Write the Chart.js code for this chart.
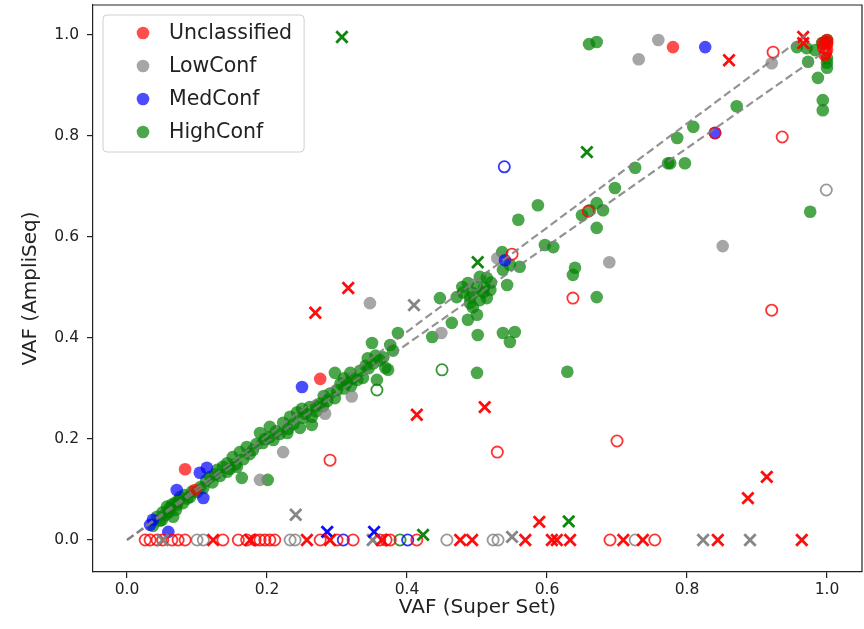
<!DOCTYPE html>
<html><head><meta charset="utf-8">
<script src="https://cdn.jsdelivr.net/npm/chart.js@4.4.0/dist/chart.umd.min.js"></script>
<style>html,body{margin:0;padding:0;background:#fff;}</style>
</head><body>
<canvas id="c" width="864" height="629"></canvas>
<script>
// ---------- data ----------
const categories = ['Unclassified', 'LowConf', 'MedConf', 'HighConf'];
const xTicks = [0.0, 0.2, 0.4, 0.6, 0.8, 1.0];
const yTicks = [0.0, 0.2, 0.4, 0.6, 0.8, 1.0];
const xAxisTitle = 'VAF (Super Set)';
const yAxisTitle = 'VAF (AmpliSeq)';
const refLineUpper = [[0, 0], [0.97, 1.0]];
const refLineLower = [[0, 0], [1.0, 0.97]];

const unclassifiedFilled = [[0.78,0.976],[0.083,0.14],[0.097,0.099],[0.276,0.319],[0.994,0.984],[1.0,0.97],[0.997,0.96],[1.0,0.98],[1.0,0.99]];
const unclassifiedHollow = [[0.923,0.966],[0.936,0.798],[0.921,0.455],[0.29,0.158],[0.529,0.174],[0.7,0.196],[0.637,0.479],[0.55,0.566],[0.659,0.651],[0.84,0.806],[0.995,0.975],[1.0,0.985],[0.998,0.965],
  [0.026,0],[0.033,0],[0.043,0],[0.051,0],[0.064,0],[0.073,0],[0.083,0],[0.137,0],[0.159,0],[0.171,0],[0.183,0],[0.19,0],[0.197,0],[0.204,0],[0.211,0],[0.276,0],[0.3,0],[0.323,0],[0.361,0],[0.37,0],[0.376,0],[0.414,0],[0.69,0],[0.754,0]];
const unclassifiedCross = [[0.316,0.499],[0.269,0.45],[0.414,0.248],[0.511,0.263],[0.86,0.95],[0.966,0.996],[0.966,0.984],[0.589,0.036],[0.887,0.083],[0.914,0.125],
  [0.123,0],[0.176,0],[0.257,0],[0.29,0],[0.364,0],[0.476,0],[0.493,0],[0.569,0],[0.607,0],[0.614,0],[0.633,0],[0.709,0],[0.737,0],[0.844,0],[0.964,0]];

const lowConfFilled = [[0.759,0.99],[0.731,0.952],[0.851,0.582],[0.689,0.55],[0.347,0.469],[0.449,0.41],[0.529,0.558],[0.321,0.284],[0.283,0.25],[0.223,0.174],[0.19,0.119],[0.921,0.944]];
const lowConfHollow = [[0.999,0.693],[0.497,0.505],[0.1,0],[0.109,0],[0.233,0],[0.24,0],[0.457,0],[0.523,0],[0.53,0],[0.726,0]];
const lowConfCross = [[0.41,0.465],[0.241,0.05],[0.051,0],[0.351,0],[0.55,0.006],[0.823,0],[0.89,0]];

const medConfFilled = [[0.826,0.976],[0.84,0.806],[0.25,0.303],[0.104,0.133],[0.114,0.143],[0.071,0.099],[0.109,0.083],[0.037,0.04],[0.033,0.03],[0.059,0.016],[0.54,0.554]];
const medConfHollow = [[0.539,0.739],[0.401,0],[0.309,0]];
const medConfCross = [[0.286,0.016],[0.353,0.016]];

const highConfFilled = [[0.037,0.028],[0.043,0.046],[0.047,0.038],[0.05,0.04],[0.051,0.055],[0.055,0.05],[0.057,0.066],[0.06,0.055],[0.061,0.063],[0.064,0.07],[0.066,0.046],[0.069,0.074],[0.07,0.06],[0.071,0.069],[0.074,0.078],[0.076,0.085],[0.08,0.073],[0.082,0.089],[0.086,0.082],[0.09,0.085],[0.093,0.096],[0.1,0.095],[0.105,0.105],[0.109,0.103],[0.113,0.118],[0.119,0.125],[0.122,0.114],[0.126,0.13],[0.129,0.139],[0.133,0.127],[0.137,0.145],[0.143,0.135],[0.143,0.152],[0.147,0.141],[0.151,0.164],[0.155,0.15],[0.157,0.145],[0.161,0.174],[0.164,0.123],[0.166,0.16],[0.171,0.184],[0.175,0.17],[0.18,0.178],[0.185,0.19],[0.19,0.212],[0.194,0.192],[0.197,0.2],[0.201,0.119],[0.204,0.204],[0.204,0.224],[0.209,0.198],[0.213,0.215],[0.218,0.21],[0.223,0.232],[0.229,0.212],[0.23,0.22],[0.233,0.244],[0.238,0.23],[0.243,0.253],[0.247,0.222],[0.25,0.26],[0.251,0.242],[0.255,0.25],[0.261,0.263],[0.264,0.244],[0.264,0.228],[0.27,0.255],[0.27,0.265],[0.276,0.27],[0.28,0.265],[0.281,0.285],[0.286,0.275],[0.29,0.29],[0.297,0.281],[0.297,0.331],[0.3,0.297],[0.305,0.31],[0.31,0.3],[0.31,0.32],[0.314,0.311],[0.319,0.331],[0.32,0.305],[0.322,0.32],[0.329,0.317],[0.333,0.335],[0.337,0.321],[0.341,0.345],[0.344,0.36],[0.345,0.34],[0.35,0.39],[0.352,0.35],[0.355,0.365],[0.357,0.317],[0.361,0.356],[0.366,0.362],[0.369,0.341],[0.373,0.337],[0.376,0.386],[0.38,0.375],[0.387,0.41],[0.436,0.402],[0.447,0.479],[0.464,0.43],[0.471,0.481],[0.479,0.501],[0.48,0.49],[0.487,0.509],[0.487,0.436],[0.49,0.469],[0.49,0.48],[0.494,0.489],[0.494,0.461],[0.5,0.446],[0.5,0.5],[0.501,0.406],[0.5,0.331],[0.504,0.521],[0.504,0.475],[0.509,0.491],[0.51,0.5],[0.514,0.519],[0.514,0.479],[0.519,0.495],[0.52,0.51],[0.536,0.57],[0.537,0.535],[0.537,0.41],[0.543,0.505],[0.547,0.545],[0.547,0.392],[0.554,0.412],[0.559,0.634],[0.561,0.541],[0.587,0.663],[0.597,0.584],[0.609,0.58],[0.629,0.333],[0.637,0.525],[0.64,0.539],[0.65,0.643],[0.661,0.653],[0.66,0.982],[0.671,0.986],[0.671,0.667],[0.671,0.618],[0.671,0.481],[0.68,0.653],[0.697,0.697],[0.726,0.737],[0.773,0.746],[0.776,0.746],[0.786,0.796],[0.797,0.746],[0.809,0.818],[0.871,0.859],[0.957,0.976],[0.971,0.974],[0.973,0.947],[0.976,0.65],[0.983,0.97],[0.987,0.915],[0.993,0.984],[0.994,0.871],[0.994,0.851],[0.997,0.986],[1.0,0.99],[1.0,0.954],[1.0,0.945],[1.0,0.935]];
const highConfHollow = [[0.45,0.337],[0.357,0.297],[0.39,0]];
const highConfCross = [[0.307,0.996],[0.657,0.768],[0.501,0.55],[0.423,0.01],[0.631,0.037]];

// ---------- styling ----------
const rgb = { Unclassified: '255,0,0', LowConf: '128,128,128', MedConf: '0,0,255', HighConf: '0,128,0' };
const series = {
  Unclassified: [unclassifiedFilled, unclassifiedHollow, unclassifiedCross],
  LowConf: [lowConfFilled, lowConfHollow, lowConfCross],
  MedConf: [medConfFilled, medConfHollow, medConfCross],
  HighConf: [highConfFilled, highConfHollow, highConfCross]
};
const drawOrder = { Unclassified: 1, MedConf: 2, LowConf: 3, HighConf: 4 };
const toPts = arr => arr.map(p => ({ x: p[0], y: p[1] }));

const datasets = [];
categories.forEach(cat => {
  const [filled, hollow, cross] = series[cat];
  const c = rgb[cat];
  const o = drawOrder[cat];
  datasets.push({ label: cat, data: toPts(filled), pointStyle: 'circle', pointRadius: 6.3, pointHoverRadius: 6.3,
    backgroundColor: `rgba(${c},0.7)`, borderColor: `rgba(${c},0.7)`, borderWidth: 0, order: o + 10 });
  datasets.push({ label: cat + ' (hollow)', data: toPts(hollow), pointStyle: 'circle', pointRadius: 5.6, pointHoverRadius: 5.6,
    backgroundColor: 'rgba(0,0,0,0)', borderColor: `rgba(${c},0.8)`, borderWidth: 1.8, order: o + 5 });
  datasets.push({ label: cat + ' (x)', data: toPts(cross), pointStyle: 'crossRot', pointRadius: 8, pointHoverRadius: 8,
    backgroundColor: `rgba(${c},0.95)`, borderColor: `rgba(${c},0.95)`, borderWidth: 2.8, order: o });
});
[refLineUpper, refLineLower].forEach((ln, i) => {
  datasets.push({ label: 'ref' + i, data: toPts(ln), showLine: true, pointRadius: 0, pointHoverRadius: 0,
    borderColor: 'rgba(128,128,128,0.85)', borderWidth: 2.2, borderDash: [8, 4], fill: false, order: 0 });
});

const TXT = '#222';
Chart.defaults.font.family = "'DejaVu Sans', sans-serif";

const framePlugin = {
  id: 'frameLegend',
  afterDraw(chart) {
    const { ctx, chartArea: a } = chart;
    ctx.save();
    ctx.strokeStyle = TXT; ctx.lineWidth = 1.2;
    ctx.beginPath();
    ctx.moveTo(a.left, a.top); ctx.lineTo(a.right, a.top); ctx.lineTo(a.right, a.bottom);
    ctx.stroke();
    // legend
    ctx.font = "20.5px 'DejaVu Sans'";
    let maxW = 0;
    categories.forEach(c => { maxW = Math.max(maxW, ctx.measureText(c).width); });
    const bx = a.left + 10, by = a.top + 10;
    const textX = a.left + 76;
    const bw = textX - bx + maxW + 12, bh = 137;
    const r = 4;
    ctx.beginPath();
    ctx.moveTo(bx + r, by); ctx.lineTo(bx + bw - r, by); ctx.arcTo(bx + bw, by, bx + bw, by + r, r);
    ctx.lineTo(bx + bw, by + bh - r); ctx.arcTo(bx + bw, by + bh, bx + bw - r, by + bh, r);
    ctx.lineTo(bx + r, by + bh); ctx.arcTo(bx, by + bh, bx, by + bh - r, r);
    ctx.lineTo(bx, by + r); ctx.arcTo(bx, by, bx + r, by, r);
    ctx.closePath();
    ctx.fillStyle = 'rgba(255,255,255,0.8)'; ctx.fill();
    ctx.strokeStyle = '#d0d0d0'; ctx.lineWidth = 1; ctx.stroke();
    categories.forEach((c, i) => {
      const y = a.top + 28 + i * 33;
      ctx.beginPath(); ctx.arc(a.left + 50, y, 6.3, 0, Math.PI * 2);
      ctx.fillStyle = `rgba(${rgb[c]},0.7)`; ctx.fill();
      ctx.fillStyle = TXT; ctx.textAlign = 'left'; ctx.textBaseline = 'middle';
      ctx.fillText(c, textX, y + 1);
    });
    ctx.restore();
  }
};

new Chart(document.getElementById('c'), {
  type: 'scatter',
  data: { datasets },
  options: {
    responsive: false,
    animation: false,
    layout: { autoPadding: false, padding: { top: 5, right: 2, left: 0, bottom: 0 } },
    plugins: { legend: { display: false }, tooltip: { enabled: false } },
    scales: {
      x: {
        type: 'linear', min: -0.0486, max: 1.05,
        afterBuildTicks: s => { s.ticks = xTicks.map(v => ({ value: v })); },
        afterFit: s => { s.height = 57; s.paddingLeft = 0; s.paddingRight = 0; },
        ticks: { callback: v => Number(v).toFixed(1), color: TXT, font: { size: 15.5 }, padding: 3, maxRotation: 0 },
        grid: { display: true, drawOnChartArea: false, drawTicks: true, tickLength: 6, color: TXT, lineWidth: 1.2 },
        border: { display: true, color: TXT, width: 1.2 },
        title: { display: true, text: xAxisTitle, color: TXT, font: { size: 20 }, padding: { top: 0, bottom: 9 } }
      },
      y: {
        type: 'linear', min: -0.0634, max: 1.0594,
        afterBuildTicks: s => { s.ticks = yTicks.map(v => ({ value: v })); },
        afterFit: s => { s.width = 93; s.paddingTop = 0; s.paddingBottom = 0; },
        ticks: { callback: v => Number(v).toFixed(1), color: TXT, font: { size: 15.5 }, padding: 8 },
        grid: { display: true, drawOnChartArea: false, drawTicks: true, tickLength: 6, color: TXT, lineWidth: 1.2 },
        border: { display: true, color: TXT, width: 1.2 },
        title: { display: true, text: yAxisTitle, color: TXT, font: { size: 20 }, padding: { top: 19, bottom: 0 } }
      }
    }
  },
  plugins: [framePlugin]
});
</script>
</body></html>
